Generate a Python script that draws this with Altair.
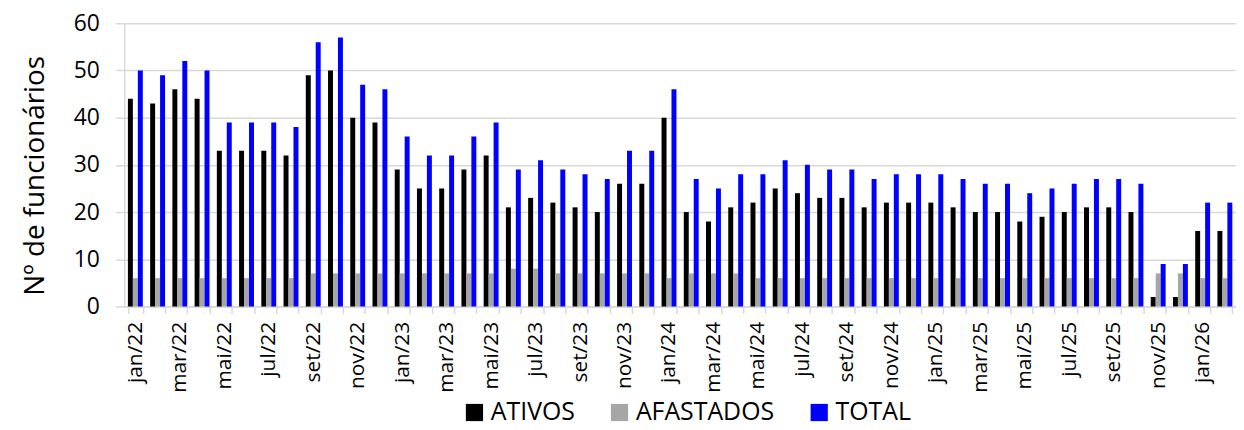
import altair as alt
import pandas as pd

months = [
    "jan/22", "fev/22", "mar/22", "abr/22", "mai/22", "jun/22", "jul/22", "ago/22", "set/22", "out/22", "nov/22", "dez/22",
    "jan/23", "fev/23", "mar/23", "abr/23", "mai/23", "jun/23", "jul/23", "ago/23", "set/23", "out/23", "nov/23", "dez/23",
    "jan/24", "fev/24", "mar/24", "abr/24", "mai/24", "jun/24", "jul/24", "ago/24", "set/24", "out/24", "nov/24", "dez/24",
    "jan/25", "fev/25", "mar/25", "abr/25", "mai/25", "jun/25", "jul/25", "ago/25", "set/25", "out/25", "nov/25", "dez/25",
    "jan/26", "fev/26",
]
ativos = [44, 43, 46, 44, 33, 33, 33, 32, 49, 50, 40, 39,
          29, 25, 25, 29, 32, 21, 23, 22, 21, 20, 26, 26,
          40, 20, 18, 21, 22, 25, 24, 23, 23, 21, 22, 22,
          22, 21, 20, 20, 18, 19, 20, 21, 21, 20, 2, 2,
          16, 16]
afastados = [6, 6, 6, 6, 6, 6, 6, 6, 7, 7, 7, 7,
             7, 7, 7, 7, 7, 8, 8, 7, 7, 7, 7, 7,
             6, 7, 7, 7, 6, 6, 6, 6, 6, 6, 6, 6,
             6, 6, 6, 6, 6, 6, 6, 6, 6, 6, 7, 7,
             6, 6]
total = [50, 49, 52, 50, 39, 39, 39, 38, 56, 57, 47, 46,
         36, 32, 32, 36, 39, 29, 31, 29, 28, 27, 33, 33,
         46, 27, 25, 28, 28, 31, 30, 29, 29, 27, 28, 28,
         28, 27, 26, 26, 24, 25, 26, 27, 27, 26, 9, 9,
         22, 22]
series = ["ATIVOS", "AFASTADOS", "TOTAL"]
colors = ["#000000", "#A6A6A6", "#0000FF"]

rows = []
for i, m in enumerate(months):
    for s, vals in zip(series, [ativos, afastados, total]):
        rows.append({"Mês": m, "Série": s, "Valor": vals[i]})
df = pd.DataFrame(rows)

FONT = "Open Sans"
GRID = "#D9D9D9"

chart = alt.Chart(df).mark_bar().encode(
    x=alt.X("Mês:N", sort=months,
            scale=alt.Scale(paddingInner=0.33, paddingOuter=0.165),
            axis=alt.Axis(title=None, labelAngle=270, labelAlign="right", labelBaseline="middle",
                          labelExpr="test(/^(jan|mar|mai|jul|set|nov)/, datum.value) ? datum.value : ''",
                          labelOverlap=False, tickBand="extent", tickSize=7, tickColor=GRID,
                          tickWidth=1.5, domainColor=GRID, domainWidth=1.5,
                          labelFont=FONT, labelFontSize=21, labelColor="#000000", labelPadding=8)),
    xOffset=alt.XOffset("Série:N", sort=series,
                        scale=alt.Scale(domain=series, paddingInner=0, paddingOuter=0)),
    y=alt.Y("Valor:Q",
            scale=alt.Scale(domain=[0, 60], nice=False),
            axis=alt.Axis(title="Nº de funcionários", values=[0, 10, 20, 30, 40, 50, 60],
                          grid=True, gridColor=GRID, gridWidth=1.5,
                          domainColor=GRID, domainWidth=1.5, tickColor=GRID, tickWidth=1.5,
                          tickSize=9, labelPadding=16,
                          labelFont=FONT, labelFontSize=23, labelColor="#000000",
                          titleFont=FONT, titleFontSize=28, titleFontWeight="normal",
                          titleColor="#000000", titleBaseline="alphabetic",
                          titleX=-81, titleY=153)),
    color=alt.Color("Série:N", sort=series,
                    scale=alt.Scale(domain=series, range=colors),
                    legend=alt.Legend(title=None, orient="none", legendX=340, legendY=379,
                                      direction="horizontal", symbolType="square",
                                      symbolSize=300, symbolStrokeWidth=0, symbolOpacity=1,
                                      labelFont=FONT, labelFontSize=25, labelColor="#000000",
                                      labelOffset=4, columnPadding=32, labelLimit=400)),
).properties(
    width=1119, height=285,
    padding={"left": 117, "top": 14, "right": 0, "bottom": 128},
    autosize=alt.AutoSizeParams(type="none"),
).configure_view(stroke=None)

chart.save("out.html", embed_options={"renderer": "svg", "actions": False})
